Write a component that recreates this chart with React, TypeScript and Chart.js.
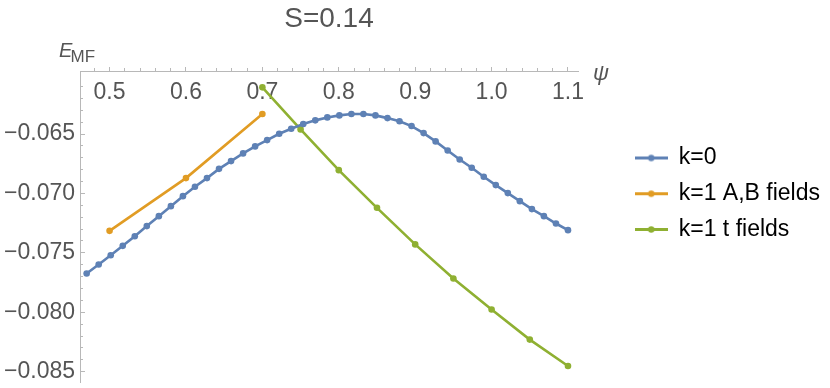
import React, { useEffect, useRef } from "react";
import { Chart, registerables } from "chart.js";

Chart.register(...registerables);

// ---- data ----
const blueX = [
  0.47, 0.48575, 0.5015, 0.51725, 0.533, 0.54875, 0.5645, 0.58025, 0.596, 0.61175,
  0.6275, 0.64325, 0.659, 0.67475, 0.6905, 0.70625, 0.722, 0.73775, 0.7535, 0.76925,
  0.785, 0.80075, 0.8165, 0.83225, 0.848, 0.86375, 0.8795, 0.89525, 0.911, 0.92675,
  0.9425, 0.95825, 0.974, 0.98975, 1.0055, 1.02125, 1.037, 1.05275, 1.0685, 1.08425, 1.1,
];
const blueY = [
  -0.07674, -0.07598, -0.0752, -0.07441, -0.0736, -0.07275, -0.07191, -0.07107, -0.07023, -0.06944,
  -0.06871, -0.06793, -0.06728, -0.06663, -0.06604, -0.06551, -0.06498, -0.06456, -0.06416, -0.06385,
  -0.0636, -0.06343, -0.06332, -0.06332, -0.06343, -0.06366, -0.06393, -0.06433, -0.06492, -0.06562,
  -0.06638, -0.06714, -0.06784, -0.0686, -0.0693, -0.06997, -0.07065, -0.07132, -0.07191, -0.07253,
  -0.07309,
];
const orangeX = [0.5, 0.6, 0.7];
const orangeY = [-0.07315, -0.06871, -0.06332];
const greenX = [0.7, 0.75, 0.8, 0.85, 0.9, 0.95, 1.0, 1.05, 1.1];
const greenY = [-0.06107, -0.06461, -0.06804, -0.07121, -0.07429, -0.07716, -0.07977, -0.0823, -0.08452];

const seriesLabels = ["k=0", "k=1 A,B fields", "k=1 t fields"];
const seriesColors = ["#5e81b5", "#e19c24", "#8fb032"];

const xTicks = [0.5, 0.6, 0.7, 0.8, 0.9, 1.0, 1.1];
const xMinorTicks = [
  0.48, 0.52, 0.54, 0.56, 0.58, 0.62, 0.64, 0.66, 0.68, 0.72, 0.74, 0.76, 0.78,
  0.82, 0.84, 0.86, 0.88, 0.92, 0.94, 0.96, 0.98, 1.02, 1.04, 1.06, 1.08,
];
const yTicks = [-0.065, -0.07, -0.075, -0.08, -0.085];
const yMinorTicks = [
  -0.061, -0.062, -0.063, -0.064, -0.066, -0.067, -0.068, -0.069, -0.071, -0.072,
  -0.073, -0.074, -0.076, -0.077, -0.078, -0.079, -0.081, -0.082, -0.083, -0.084,
];

const X_MIN = 0.4613;
const X_MAX = 1.1131;
const Y_MIN = -0.08587;
const Y_MAX = -0.05972;

const TITLE = "S=0.14";
const FONT = "'Liberation Sans', Arial, sans-serif";
const GRAY = "#555555";
const AXIS_GRAY = "#b8b8b8";

function makeIcon(color: string) {
  const c = document.createElement("canvas");
  c.width = 33;
  c.height = 9;
  const g = c.getContext("2d")!;
  g.strokeStyle = color;
  g.lineWidth = 3;
  g.beginPath();
  g.moveTo(0, 4.5);
  g.lineTo(33, 4.5);
  g.stroke();
  g.fillStyle = color;
  g.beginPath();
  g.arc(16.5, 4.5, 3.2, 0, Math.PI * 2);
  g.fill();
  return c;
}

const axisLabelsPlugin = {
  id: "axisLabels",
  afterDraw(chart: any) {
    const ctx = chart.ctx;
    const area = chart.chartArea;
    ctx.save();
    ctx.fillStyle = GRAY;
    ctx.textBaseline = "alphabetic";
    ctx.textAlign = "left";
    ctx.font = `italic 20px ${FONT}`;
    ctx.fillText("E", area.left - 21, area.top - 14.5);
    ctx.font = `17px ${FONT}`;
    ctx.fillText("MF", area.left - 9.5, area.top - 9.5);
    ctx.font = `italic 22px ${FONT}`;
    ctx.fillText("ψ", area.right + 15, area.top + 9);
    ctx.restore();
  },
};

const fmtY = (v: number) => v.toFixed(3).replace("-", "\u2212");

export default function App() {
  const ref = useRef<HTMLCanvasElement>(null);
  useEffect(() => {
    if (!ref.current) return;
    const icons = seriesColors.map(makeIcon);
    const mk = (xs: number[], ys: number[]) => xs.map((x, i) => ({ x, y: ys[i] }));
    const dsBase = (i: number) => ({
      label: seriesLabels[i],
      borderColor: seriesColors[i],
      backgroundColor: seriesColors[i],
      pointBackgroundColor: seriesColors[i],
      pointBorderWidth: 0,
      pointRadius: 3.3,
      borderWidth: 2.6,
      tension: 0,
      fill: false,
    });
    const chart = new Chart(ref.current, {
      type: "line",
      data: {
        datasets: [
          { ...dsBase(0), data: mk(blueX, blueY) },
          { ...dsBase(1), data: mk(orangeX, orangeY) },
          { ...dsBase(2), data: mk(greenX, greenY) },
        ],
      },
      plugins: [axisLabelsPlugin],
      options: {
        animation: false,
        responsive: false,
        devicePixelRatio: 1,
        layout: { padding: { top: 5.5, bottom: 6, left: 0, right: 0 } },
        plugins: {
          title: {
            display: true,
            text: TITLE,
            fullSize: false,
            color: GRAY,
            font: { family: FONT, size: 28, weight: "normal", lineHeight: 1.0 },
            padding: { top: 0, bottom: 37.8 },
          },
          legend: {
            display: true,
            position: "right",
            maxWidth: 320,
            labels: {
              usePointStyle: true,
              pointStyleWidth: 32,
              padding: 12.75,
              color: "#000000",
              font: { family: FONT, size: 23 },
              generateLabels: (ch: any) =>
                ch.data.datasets.map((ds: any, i: number) => ({
                  text: ds.label,
                  pointStyle: icons[i],
                  fillStyle: seriesColors[i],
                  strokeStyle: seriesColors[i],
                  lineWidth: 0,
                  hidden: false,
                  datasetIndex: i,
                  fontColor: "#000000",
                })),
            },
          },
          tooltip: { enabled: false },
        },
        scales: {
          x: {
            type: "linear",
            min: X_MIN,
            max: X_MAX,
            position: { y: Y_MAX } as any,
            afterBuildTicks: (s: any) => {
              s.ticks = xTicks.map((v) => ({ value: v }));
            },
            ticks: {
              autoSkip: false,
              maxRotation: 0,
              color: GRAY,
              padding: 13,
              font: { family: FONT, size: 23, lineHeight: 1.2 },
              callback: (v: any) => Number(v).toFixed(1),
            },
            grid: { drawOnChartArea: false, drawTicks: true, tickLength: -5, color: AXIS_GRAY },
            border: { display: true, color: AXIS_GRAY, width: 1 },
          },
          xm: {
            type: "linear",
            min: X_MIN,
            max: X_MAX,
            position: { y: Y_MAX } as any,
            afterBuildTicks: (s: any) => {
              s.ticks = xMinorTicks.map((v) => ({ value: v }));
            },
            ticks: { display: false },
            grid: { drawOnChartArea: false, drawTicks: true, tickLength: -3, color: AXIS_GRAY },
            border: { display: false },
          },
          y: {
            type: "linear",
            position: "left",
            min: Y_MIN,
            max: Y_MAX,
            afterBuildTicks: (s: any) => {
              s.ticks = yTicks.map((v) => ({ value: v }));
            },
            afterFit: (s: any) => {
              s.width = 80;
              s.paddingTop = 0;
              s.paddingBottom = 0;
            },
            ticks: {
              autoSkip: false,
              color: GRAY,
              padding: 10,
              font: { family: FONT, size: 23 },
              callback: (v: any) => fmtY(Number(v)),
            },
            grid: { drawOnChartArea: false, drawTicks: true, tickLength: -5, color: AXIS_GRAY },
            border: { display: true, color: AXIS_GRAY, width: 1 },
          },
          ym: {
            type: "linear",
            min: Y_MIN,
            max: Y_MAX,
            position: { x: X_MIN } as any,
            afterBuildTicks: (s: any) => {
              s.ticks = yMinorTicks.map((v) => ({ value: v }));
            },
            ticks: { display: false },
            grid: { drawOnChartArea: false, drawTicks: true, tickLength: -3, color: AXIS_GRAY },
            border: { display: false },
          },
          yR: {
            type: "linear",
            position: "right",
            display: true,
            afterFit: (s: any) => {
              const lw = s.chart.legend ? s.chart.legend.width : 0;
              s.width = Math.max(0, s.chart.width - lw - 578);
              s.paddingTop = 0;
              s.paddingBottom = 0;
            },
            ticks: { display: false },
            grid: { display: false },
            border: { display: false },
          },
        },
      } as any,
    });
    return () => chart.destroy();
  }, []);
  return (
    <div style={{ position: "absolute", left: 0, top: 0, width: 830, height: 388, background: "#fff" }}>
      <canvas ref={ref} width={830} height={388} style={{ width: 830, height: 388 }} />
    </div>
  );
}
